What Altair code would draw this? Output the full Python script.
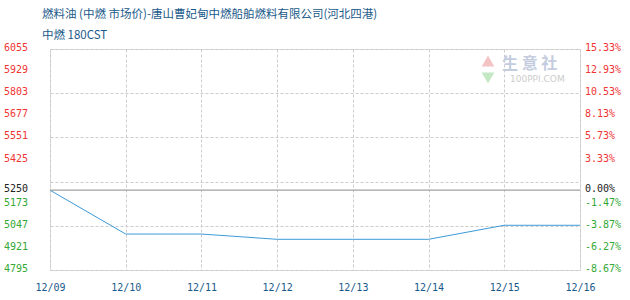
import altair as alt
import pandas as pd

dates = ["12/09", "12/10", "12/11", "12/12", "12/13", "12/14", "12/15", "12/16"]
prices = [5250, 5000, 5000, 4970, 4970, 4970, 5050, 5050]

grid_vals = [6055, 5929, 5803, 5677, 5551, 5425, 5299, 5173, 5047, 4921, 4795]
left_vals = [6055, 5929, 5803, 5677, 5551, 5425, 5250, 5173, 5047, 4921, 4795]
right_labels = ["15.33%", "12.93%", "10.53%", "8.13%", "5.73%", "3.33%", "0.00%",
                "-1.47%", "-3.87%", "-6.27%", "-8.67%"]
base_price = 5250

title_text = "燃料油 (中燃 市场价)-唐山曹妃甸中燃船舶燃料有限公司(河北四港)"
subtitle_text = "中燃 180CST"

RED = "#f03434"
GREEN = "#34a834"
BLACK = "#222222"

df = pd.DataFrame({"date": dates, "price": prices})
lab = pd.DataFrame({
    "v": left_vals,
    "left": [str(v) for v in left_vals],
    "right": right_labels,
    "c": [RED if v > base_price else (GREEN if v < base_price else BLACK) for v in left_vals],
})

W, H = 530, 221
yscale = alt.Scale(domain=[4795, 6055], nice=False, zero=False)
xenc = alt.X("date:O", sort=dates,
             scale=alt.Scale(type="point", padding=0),
             axis=alt.Axis(title=None, labelAngle=0, ticks=False, domain=False,
                           grid=True, gridDash=[3, 2], gridColor="#cccccc",
                           labelColor="#1a5a8a", labelFont="DejaVu Sans Mono",
                           labelFontSize=10, labelPadding=12))

grid = alt.Chart(df).mark_line(color="#3d9ad6", strokeWidth=1).encode(
    x=xenc,
    y=alt.Y("price:Q", scale=yscale,
            axis=alt.Axis(title=None, values=grid_vals, labels=False, ticks=False,
                          domain=False, grid=True, gridDash=[3, 2], gridColor="#cccccc")),
)

baseline = alt.Chart(pd.DataFrame({"b": [base_price]})).mark_rule(
    color="#a0a0a0", strokeWidth=1.2).encode(y=alt.Y("b:Q", scale=yscale))

left_txt = alt.Chart(lab).mark_text(
    align="right", baseline="middle", font="DejaVu Sans Mono", fontSize=10, dy=-1
).encode(x=alt.value(-22), y=alt.Y("v:Q", scale=yscale),
         text="left:N", color=alt.Color("c:N", scale=None))

right_txt = alt.Chart(lab).mark_text(
    align="left", baseline="middle", font="DejaVu Sans Mono", fontSize=10, dy=-1
).encode(x=alt.value(W + 5), y=alt.Y("v:Q", scale=yscale),
         text="right:N", color=alt.Color("c:N", scale=None))

title = alt.Chart(pd.DataFrame({"t": [title_text]})).mark_text(
    align="left", baseline="middle", font="Noto Sans CJK SC", fontSize=11.5, color="#1a5a8a"
).encode(x=alt.value(-8), y=alt.value(-34), text="t:N")

subtitle = alt.Chart(pd.DataFrame({"t": [subtitle_text]})).mark_text(
    align="left", baseline="middle", font="Noto Sans CJK SC", fontSize=11.5, color="#1a5a8a"
).encode(x=alt.value(-8), y=alt.value(-13), text="t:N")

wm1 = alt.Chart(pd.DataFrame({"t": ["生 意 社"]})).mark_text(
    align="left", baseline="middle", font="Noto Sans CJK SC", fontSize=16,
    fontWeight="bold", color="#c4cce0"
).encode(x=alt.value(452), y=alt.value(15), text="t:N")

wm2 = alt.Chart(pd.DataFrame({"t": ["100PPI.COM"]})).mark_text(
    align="left", baseline="middle", font="DejaVu Sans", fontSize=9, color="#cccccc"
).encode(x=alt.value(460), y=alt.value(30), text="t:N")

logo_up = alt.Chart(pd.DataFrame({"s": ["up"]})).mark_point(
    shape="triangle-up", filled=True, size=160, color="#f4c4c4", opacity=1
).encode(x=alt.value(438), y=alt.value(12))

logo_dn = alt.Chart(pd.DataFrame({"s": ["dn"]})).mark_point(
    shape="triangle-down", filled=True, size=160, color="#c4e8c4", opacity=1
).encode(x=alt.value(438), y=alt.value(29))

chart = alt.layer(
    logo_up, logo_dn, wm1, wm2, grid, baseline, left_txt, right_txt, title, subtitle
).properties(
    width=W, height=H,
    autosize=alt.AutoSizeParams(type="none"),
    padding={"left": 50, "top": 49, "right": 50, "bottom": 30},
).configure_view(stroke="#999999", strokeWidth=1.5).configure(background="white")

chart.save("out.html", embed_options={"renderer": "svg", "actions": False})
